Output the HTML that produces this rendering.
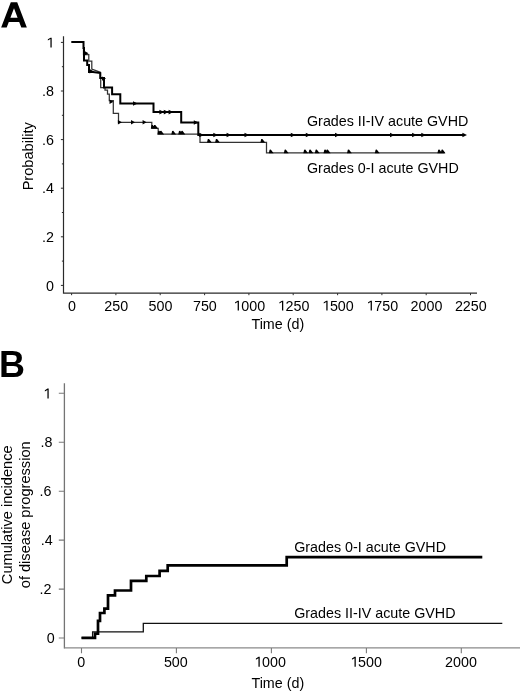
<!DOCTYPE html>
<html><head><meta charset="utf-8"><title>Figure</title>
<style>html,body{margin:0;padding:0;background:#fff;}body{width:520px;height:693px;overflow:hidden;font-family:"Liberation Sans",sans-serif;}svg{display:block;will-change:transform}svg text{font-family:"Liberation Sans",sans-serif;fill:#000}</style>
</head><body>
<svg width="520" height="693" viewBox="0 0 520 693">
<rect width="520" height="693" fill="#fff"/>
<path d="M1.15 27.6L10.8 2.15L17.2 2.15L26.85 27.6L21.3 27.6L19.2 22L8.8 22L6.7 27.6Z M10.4 17.75L14 8.2L17.6 17.75Z" fill="#000" fill-rule="evenodd"/>
<path d="M63.5 36.3V293.2H477" fill="none" stroke="#2a2a2a" stroke-width="1.2"/>
<path d="M60.9 285.4H63.5 M61.9 261.1H63.5 M60.9 236.8H63.5 M61.9 212.5H63.5 M60.9 188.2H63.5 M61.9 163.9H63.5 M60.9 139.6H63.5 M61.9 115.3H63.5 M60.9 91.0H63.5 M61.9 66.7H63.5 M60.9 42.4H63.5 M71.6 293.2V295.2 M115.9 293.2V295.2 M160.2 293.2V295.2 M204.6 293.2V295.2 M248.9 293.2V295.2 M293.2 293.2V295.2 M337.6 293.2V295.2 M381.9 293.2V295.2 M426.2 293.2V295.2 M470.5 293.2V295.2" stroke="#2a2a2a" stroke-width="1"/>
<text x="46.05" y="290.50"  font-size="14.3">0</text>
<text x="42.07 46.05" y="241.90"  font-size="14.3">.2</text>
<text x="42.07 46.05" y="193.30"  font-size="14.3">.4</text>
<text x="42.07 46.05" y="144.70"  font-size="14.3">.6</text>
<text x="42.07 46.05" y="96.10"  font-size="14.3">.8</text>
<path d="M50.42 47.50 50.42 38.98 47.85 40.52 47.85 39.37 50.52 37.66 51.68 37.66 51.68 47.50Z" fill="#000"/>
<text x="67.92" y="310.50"  font-size="14.3">0</text>
<text x="104.30 112.25 120.20" y="310.50"  font-size="14.3">250</text>
<text x="148.62 156.57 164.53" y="310.50"  font-size="14.3">500</text>
<text x="192.95 200.90 208.85" y="310.50"  font-size="14.3">750</text>
<text x="241.25 249.20 257.15" y="310.50"  font-size="14.3">000</text>
<path d="M237.66 310.50 237.66 301.98 235.10 303.52 235.10 302.37 237.77 300.66 238.93 300.66 238.93 310.50Z" fill="#000"/>
<text x="285.57 293.52 301.48" y="310.50"  font-size="14.3">250</text>
<path d="M281.99 310.50 281.99 301.98 279.42 303.52 279.42 302.37 282.09 300.66 283.25 300.66 283.25 310.50Z" fill="#000"/>
<text x="329.90 337.85 345.80" y="310.50"  font-size="14.3">500</text>
<path d="M326.31 310.50 326.31 301.98 323.75 303.52 323.75 302.37 326.42 300.66 327.58 300.66 327.58 310.50Z" fill="#000"/>
<text x="374.22 382.17 390.13" y="310.50"  font-size="14.3">750</text>
<path d="M370.64 310.50 370.64 301.98 368.07 303.52 368.07 302.37 370.74 300.66 371.90 300.66 371.90 310.50Z" fill="#000"/>
<text x="410.59 418.55 426.50 434.45" y="310.50"  font-size="14.3">2000</text>
<text x="454.92 462.87 470.82 478.78" y="310.50"  font-size="14.3">2250</text>
<text transform="translate(33.4 156.3) rotate(-90)"  font-size="14.6" text-anchor="middle">Probability</text>
<text x="277.8" y="328.6"  font-size="14.3" text-anchor="middle">Time (d)</text>
<path d="M83.5 48V54.5H88.8V61H91.8V69L100.3 72.3V78H100.7V87.5H105V90.2H107.5V94.2H109.3V100.5H113.3V113.3H118.5V122.3H151.8V128.3H158.2V134.2H200V142.3H266.5V152.9H444.7" fill="none" stroke="#333" stroke-width="1.25"/>
<path d="M71.3 42H83.5V48H84V60.5H87.2V65H89V72H93L100.3 73V78H104V87.5H112.1V94.3H120.3V103.5H153.5V112.1H181.2V122.5H198.3V135H463.8" fill="none" stroke="#000" stroke-width="2"/>
<path d="M133.0 101.2L137.6 103.5L133.0 105.8ZM159.4 109.8L164.0 112.1L159.4 114.4ZM163.8 109.8L168.4 112.1L163.8 114.4ZM168.6 109.8L173.2 112.1L168.6 114.4ZM193.8 120.2L198.4 122.5L193.8 124.8ZM199.3 132.7L203.9 135.0L199.3 137.3ZM213.3 132.7L217.9 135.0L213.3 137.3ZM226.6 132.7L231.2 135.0L226.6 137.3ZM244.5 132.7L249.1 135.0L244.5 137.3ZM290.8 132.7L295.4 135.0L290.8 137.3ZM305.8 132.7L310.4 135.0L305.8 137.3ZM335.0 132.7L339.6 135.0L335.0 137.3ZM390.0 132.7L394.6 135.0L390.0 137.3ZM412.1 132.7L416.7 135.0L412.1 137.3ZM421.3 132.7L425.9 135.0L421.3 137.3ZM462.4 132.7L467.0 135.0L462.4 137.3Z" fill="#000"/>
<path d="M150.8 128.6L151.6 125.1L152.8 124.9L155.6 128.6ZM153.3 128.6L154.1 125.1L155.3 124.9L158.1 128.6ZM157.4 134.5L158.2 131.0L159.4 130.8L162.2 134.5ZM159.3 134.5L160.1 131.0L161.3 130.8L164.1 134.5ZM171.3 134.5L172.1 131.0L173.3 130.8L176.1 134.5ZM178.2 134.5L179.0 131.0L180.2 130.8L183.0 134.5ZM180.5 134.5L181.3 131.0L182.5 130.8L185.3 134.5ZM207.0 142.6L207.8 139.1L209.0 138.9L211.8 142.6ZM215.1 142.6L215.9 139.1L217.1 138.9L219.9 142.6ZM260.4 142.6L261.2 139.1L262.4 138.9L265.2 142.6ZM268.8 153.2L269.6 149.7L270.8 149.5L273.6 153.2ZM283.8 153.2L284.6 149.7L285.8 149.5L288.6 153.2ZM303.3 153.2L304.1 149.7L305.3 149.5L308.1 153.2ZM308.5 153.2L309.3 149.7L310.5 149.5L313.3 153.2ZM314.8 153.2L315.6 149.7L316.8 149.5L319.6 153.2ZM323.5 153.2L324.3 149.7L325.5 149.5L328.3 153.2ZM325.8 153.2L326.6 149.7L327.8 149.5L330.6 153.2ZM347.0 153.2L347.8 149.7L349.0 149.5L351.8 153.2ZM374.8 153.2L375.6 149.7L376.8 149.5L379.6 153.2ZM437.4 153.2L438.2 149.7L439.4 149.5L442.2 153.2ZM440.7 153.2L441.5 149.7L442.7 149.5L445.5 153.2ZM84.5 51.1L88.5 53.3L84.5 55.5ZM89.6 69.0L93.6 71.2L89.6 73.4ZM102.0 76.4L106.0 78.6L102.0 80.8ZM109.5 99.5L113.5 101.7L109.5 103.9ZM117.9 120.1L121.9 122.3L117.9 124.5ZM131.0 120.1L135.0 122.3L131.0 124.5ZM142.6 120.1L146.6 122.3L142.6 124.5Z" fill="#000"/>
<text x="307" y="125.7"  font-size="14.3">Grades II-IV acute GVHD</text>
<text x="307" y="173.4"  font-size="14.3">Grades 0-I acute GVHD</text>
<text x="-1" y="376.5"  font-size="36" font-weight="bold">B</text>
<path d="M64.4 383.3V648.5" fill="none" stroke="#747474" stroke-width="1.3"/>
<path d="M64.4 647.9H520" fill="none" stroke="#8a8a8a" stroke-width="1.2"/>
<path d="M58.8 638.0H64.4 M58.8 589.1H64.4 M58.8 540.1H64.4 M58.8 491.2H64.4 M58.8 442.2H64.4 M58.8 393.3H64.4 M81.5 648V653.2 M176.4 648V653.2 M271.4 648V653.2 M366.4 648V653.2 M461.3 648V653.2" stroke="#7a7a7a" stroke-width="1.1"/>
<text x="46.65" y="643.10"  font-size="14.3">0</text>
<text x="39.47 43.45" y="594.16"  font-size="14.3">.2</text>
<text x="40.67 44.65" y="545.22"  font-size="14.3">.4</text>
<text x="39.57 43.55" y="496.28"  font-size="14.3">.6</text>
<text x="40.47 44.45" y="447.34"  font-size="14.3">.8</text>
<path d="M47.42 398.40 47.42 389.88 44.85 391.42 44.85 390.27 47.52 388.56 48.68 388.56 48.68 398.40Z" fill="#000"/>
<text x="77.22" y="666.70"  font-size="14.3">0</text>
<text x="163.92 171.87 179.83" y="666.70"  font-size="14.3">500</text>
<text x="262.05 270.00 277.95" y="666.70"  font-size="14.3">000</text>
<path d="M258.46 666.70 258.46 658.18 255.90 659.72 255.90 658.57 258.57 656.86 259.73 656.86 259.73 666.70Z" fill="#000"/>
<text x="358.10 366.05 374.00" y="666.70"  font-size="14.3">500</text>
<path d="M354.51 666.70 354.51 658.18 351.95 659.72 351.95 658.57 354.62 656.86 355.78 656.86 355.78 666.70Z" fill="#000"/>
<text x="445.09 453.05 461.00 468.95" y="666.70"  font-size="14.3">2000</text>
<text transform="translate(12.2 514.8) rotate(-90)"  font-size="14.6" text-anchor="middle">Cumulative incidence</text>
<text transform="translate(29.6 514.8) rotate(-90)"  font-size="14.6" text-anchor="middle">of disease progression</text>
<text x="277.8" y="688.3"  font-size="14.3" text-anchor="middle">Time (d)</text>
<path d="M81.5 637.8H92.6V631.9H143.3V623.3H502.3" fill="none" stroke="#111" stroke-width="1.3"/>
<path d="M81.5 637.8H95V633.6H98V620.8H100V613H104.4V608.7H108V595.4H115V590.5H131V580.9H146.3V576H159.6V570.8H167.7V565.4H286.7V557.1H482.3" fill="none" stroke="#000" stroke-width="2.7"/>
<text x="294.2" y="552"  font-size="14.3">Grades 0-I acute GVHD</text>
<text x="294.2" y="617.5"  font-size="14.3">Grades II-IV acute GVHD</text>
</svg>
</body></html>
